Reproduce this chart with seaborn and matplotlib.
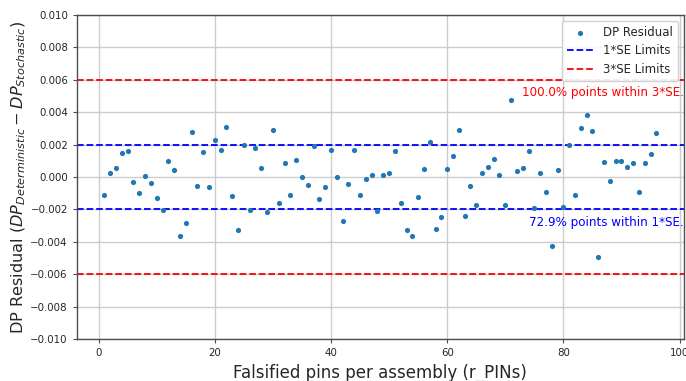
import numpy as np
import pandas as pd
import matplotlib
matplotlib.use("Agg")
import matplotlib.pyplot as plt
import seaborn as sns

# Data, residuals in units of 1e-3
pins = list(range(1, 97))
residual_e3 = [
    -1.13, 0.25, 0.56, 1.48, 1.63, -0.33, -0.99, 0.06, -0.39, -1.32,
    -2.06, 0.99, 0.43, -3.65, -2.85, 2.80, -0.54, 1.51, -0.64, 2.29,
    1.65, 3.09, -1.15, -3.26, 1.96, -2.04, 1.81, 0.58, -2.19, 2.91,
    -1.59, 0.87, -1.13, 1.03, 0.00, -0.47, 1.92, -1.38, -0.62, 1.65,
    0.00, -2.74, -0.41, 1.65, -1.09, -0.12, 0.12, -2.08, 0.12, 0.25,
    1.61, -1.63, -3.28, -3.67, -1.24, 0.52, 2.14, -3.22, -2.45, 0.47,
    1.32, 2.87, -2.41, -0.58, -1.73, 0.25, 0.62, 1.11, 0.12, -1.73,
    4.74, 0.39, 0.56, 1.59, -1.92, 0.25, -0.93, -4.27, 0.43, -1.84,
    1.96, -1.13, 3.05, 3.81, 2.85, -4.93, 0.95, -0.27, 1.01, 0.97,
    0.64, 0.87, -0.93, 0.89, 1.42, 2.74,
]
residual = [v * 1e-3 for v in residual_e3]
se1 = 0.002
se3 = 0.006
yticks = [-0.010, -0.008, -0.006, -0.004, -0.002, 0.000, 0.002, 0.004, 0.006, 0.008, 0.010]
xticks = [0, 20, 40, 60, 80, 100]
text_3se = "100.0% points within 3*SE."
text_1se = "72.9% points within 1*SE."

df = pd.DataFrame({"pins": pins, "residual": residual})

sns.set_theme(style="ticks", rc={"axes.grid": True, "grid.color": "0.8",
                                 "axes.edgecolor": "0.3", "axes.linewidth": 1.0})
plt.rcParams["font.family"] = ["DejaVu Sans"]

fig = plt.figure(figsize=(6.86, 3.81), dpi=100)
ax = fig.add_axes([0.112, 0.110, 0.885, 0.851])

sns.scatterplot(data=df, x="pins", y="residual", ax=ax, s=14, color="#1f77b4",
                linewidth=0, label="DP Residual", zorder=3)
ax.axhline(se1, color="blue", ls="--", lw=1.3, label="1*SE Limits")
ax.axhline(-se1, color="blue", ls="--", lw=1.3)
ax.axhline(se3, color="red", ls="--", lw=1.3, label="3*SE Limits")
ax.axhline(-se3, color="red", ls="--", lw=1.3)

ytrans = ax.get_yaxis_transform()
ax.text(1.0, 0.0052, text_3se, color="red", fontsize=8.6, ha="right", va="center",
        transform=ytrans)
ax.text(1.0, -0.0028, text_1se, color="blue", fontsize=8.6, ha="right", va="center",
        transform=ytrans)

ax.set_ylim(-0.010, 0.010)
ax.set_yticks(yticks)
ax.set_yticklabels([f"{t:.3f}".replace("-", "\u2212") for t in yticks])
ax.set_xticks(xticks)
ax.tick_params(labelsize=7.4, length=3, width=0.8, color="0.3")
ax.set_xlabel("Falsified pins per assembly (r_PINs)", fontsize=12, labelpad=4)
ax.set_ylabel(r"DP Residual ($DP_{Deterministic} - DP_{Stochastic}$)", fontsize=11.6, labelpad=2)

ax.legend(loc="upper right", fontsize=8.5, frameon=True, framealpha=0.9, edgecolor="0.8",
          borderpad=0.45, labelspacing=0.45, handlelength=2.2)

fig.savefig("out.png", dpi=100)
